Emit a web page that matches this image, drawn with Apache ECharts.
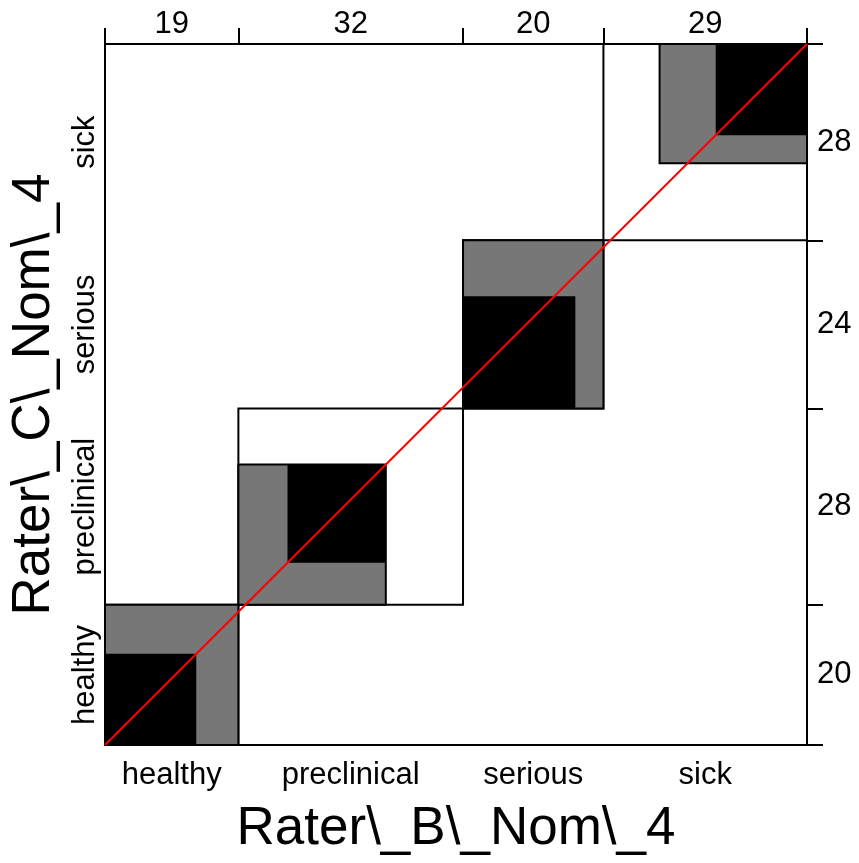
<!DOCTYPE html>
<html>
<head>
<meta charset="utf-8">
<script src="https://cdn.jsdelivr.net/npm/echarts@6/dist/echarts.min.js"></script>
<style>
  html, body { margin: 0; padding: 0; background: #fff; }
  #agreementChart { width: 859px; height: 863px; }
</style>
</head>
<body>
<div id="agreementChart"></div>
<script>
  // agreement chart, Rater B (columns) vs Rater C (rows)
  const categories = ['healthy', 'preclinical', 'serious', 'sick'];
  const colTotals = [19, 32, 20, 29];   // Rater B marginals (top)
  const rowTotals = [20, 28, 24, 28];   // Rater C marginals (right)

  // exact agreement squares (counts), offset inside each diagonal box
  const exactCount = [13, 14, 16, 13];
  const exactOffsetB = [0, 7, 0, 16];
  const exactOffsetC = [0, 6, 0, 15];

  // partial agreement rectangles (counts), offset inside each diagonal box
  const partialOffsetB = [0, 0, 0, 8];
  const partialWidth = [19, 21, 20, 21];
  const partialOffsetC = [0, 0, 0, 11];
  const partialHeight = [20, 20, 24, 17];

  document.addEventListener('DOMContentLoaded', function () {
    const chartDom = document.getElementById('agreementChart');
    const myChart = echarts.init(chartDom);

    const cumB = [0], cumC = [0];
    colTotals.forEach((v, i) => cumB.push(cumB[i] + v));
    rowTotals.forEach((v, i) => cumC.push(cumC[i] + v));
    const total = cumB[cumB.length - 1];
    const centersB = colTotals.map((v, i) => cumB[i] + v / 2);
    const centersC = rowTotals.map((v, i) => cumC[i] + v / 2);
    const idxOf = (arr, v) => arr.findIndex(c => Math.abs(c - v) < 1e-6);

    const font = 'Liberation Sans';
    const lineCol = '#000';
    const lw = 2;
    const labelSize = 31;

    function rectShape(api, x0, y0, w, h) {
      const p1 = api.coord([x0, y0 + h]);
      const p2 = api.coord([x0 + w, y0]);
      return { x: p1[0], y: p1[1], width: p2[0] - p1[0], height: p2[1] - p1[1] };
    }

    const option = {
      animation: false,
      textStyle: { fontFamily: font },
      grid: { left: 105, right: 52, top: 44, bottom: 118 },

      xAxis: [
        {
          type: 'value', position: 'bottom', min: 0, max: total,
          name: 'Rater\\_B\\_Nom\\_4',
          nameLocation: 'middle', nameGap: 58,
          nameTextStyle: { fontSize: 53, color: '#000', fontFamily: font },
          axisLine: { show: true, onZero: false, lineStyle: { color: lineCol, width: lw } },
          axisTick: { show: false },
          splitLine: { show: false },
          axisLabel: {
            customValues: centersB, margin: 15, fontSize: labelSize, color: '#000', fontFamily: font,
            formatter: v => categories[idxOf(centersB, v)] || ''
          }
        },
        {
          type: 'value', position: 'top', min: 0, max: total,
          axisLine: { show: true, onZero: false, lineStyle: { color: lineCol, width: lw } },
          axisTick: { show: true, customValues: cumB, length: 16, lineStyle: { color: lineCol, width: lw } },
          splitLine: { show: false },
          axisLabel: {
            customValues: centersB, margin: 4, fontSize: labelSize, color: '#000', fontFamily: font,
            formatter: v => String(colTotals[idxOf(centersB, v)] ?? '')
          }
        }
      ],

      yAxis: [
        {
          type: 'value', position: 'left', min: 0, max: total,
          name: 'Rater\\_C\\_Nom\\_4',
          nameLocation: 'middle', nameGap: 44,
          nameTextStyle: { fontSize: 53, color: '#000', fontFamily: font },
          axisLine: { show: true, onZero: false, lineStyle: { color: lineCol, width: lw } },
          axisTick: { show: false },
          splitLine: { show: false },
          axisLabel: {
            customValues: centersC, rotate: 90, margin: 4, fontSize: labelSize, color: '#000', fontFamily: font,
            formatter: v => categories[idxOf(centersC, v)] || ''
          }
        },
        {
          type: 'value', position: 'right', min: 0, max: total,
          axisLine: { show: true, onZero: false, lineStyle: { color: lineCol, width: lw } },
          axisTick: { show: true, customValues: cumC, length: 16, lineStyle: { color: lineCol, width: lw } },
          splitLine: { show: false },
          axisLabel: {
            customValues: centersC, margin: 10, fontSize: labelSize, color: '#000', fontFamily: font,
            formatter: v => String(rowTotals[idxOf(centersC, v)] ?? '')
          }
        }
      ],

      series: [
        {
          type: 'custom',
          xAxisIndex: 0, yAxisIndex: 0,
          data: categories.map((c, i) => [i]),
          renderItem: function (params, api) {
            const i = api.value(0);
            const bx = cumB[i], by = cumC[i];
            return {
              type: 'group',
              children: [
                {
                  type: 'rect',
                  shape: rectShape(api, bx, by, colTotals[i], rowTotals[i]),
                  style: { fill: '#fff', stroke: lineCol, lineWidth: lw }
                },
                {
                  type: 'rect',
                  shape: rectShape(api, bx + partialOffsetB[i], by + partialOffsetC[i], partialWidth[i], partialHeight[i]),
                  style: { fill: '#777777', stroke: lineCol, lineWidth: lw }
                },
                {
                  type: 'rect',
                  shape: rectShape(api, bx + exactOffsetB[i], by + exactOffsetC[i], exactCount[i], exactCount[i]),
                  style: { fill: '#000', stroke: lineCol, lineWidth: 0 }
                }
              ]
            };
          }
        },
        {
          type: 'line',
          xAxisIndex: 0, yAxisIndex: 0,
          data: [[0, 0], [total, total]],
          symbol: 'none',
          lineStyle: { color: '#ff0000', width: 2 },
          z: 5
        }
      ]
    };

    myChart.setOption(option);
    window.addEventListener('resize', () => { myChart.resize(); });
  });
</script>
</body>
</html>
